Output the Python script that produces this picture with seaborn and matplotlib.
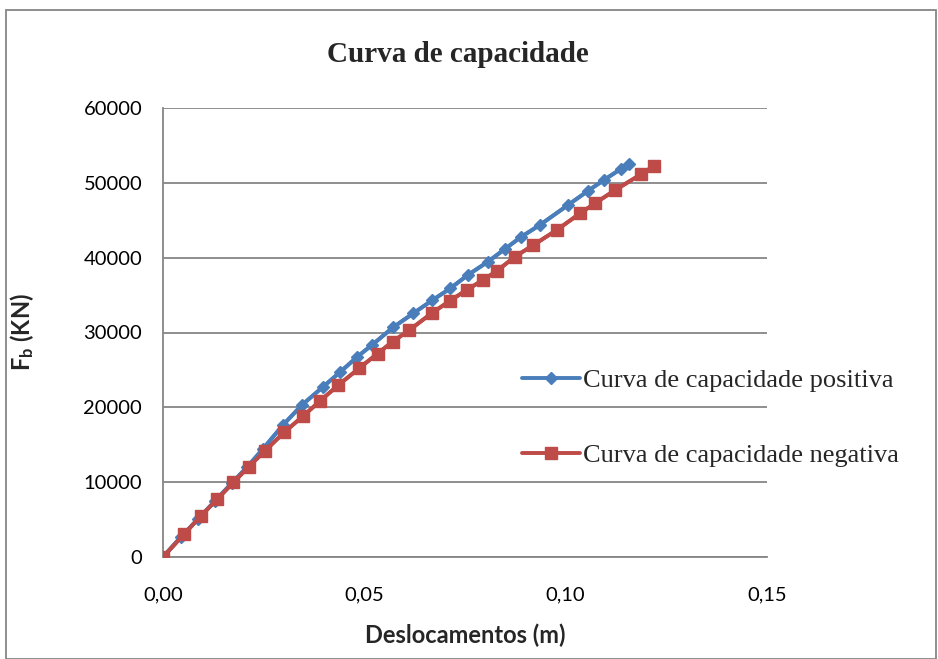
import numpy as np
import pandas as pd
import seaborn as sns
import matplotlib
matplotlib.use("Agg")
import matplotlib.pyplot as plt
from matplotlib.patches import Rectangle
from matplotlib.ticker import FuncFormatter

# Capacity curve data: displacement (m) vs base shear (kN)
desl_pos = [0.0, 0.0045, 0.0087, 0.0129, 0.0171, 0.0209, 0.0248, 0.0298, 0.0345,
            0.0397, 0.0440, 0.0482, 0.0519, 0.0571, 0.0621, 0.0668, 0.0713, 0.0757,
            0.0807, 0.0849, 0.0889, 0.0936, 0.1006, 0.1055, 0.1095, 0.1137, 0.1158]
forca_pos = [0, 2700, 5080, 7480, 9890, 12030, 14430, 17640, 20310,
             22720, 24720, 26730, 28330, 30670, 32540, 34280, 35880, 37680,
             39460, 41160, 42760, 44370, 47040, 48910, 50380, 51850, 52500]

desl_neg = [0.0, 0.0052, 0.0094, 0.0135, 0.0175, 0.0213, 0.0253, 0.0301, 0.0348,
            0.0390, 0.0435, 0.0487, 0.0533, 0.0570, 0.0612, 0.0667, 0.0713, 0.0754,
            0.0795, 0.0830, 0.0874, 0.0920, 0.0978, 0.1036, 0.1073, 0.1123, 0.1187, 0.1219]
forca_neg = [0, 3030, 5480, 7750, 9980, 12070, 14170, 16660, 18840,
             20850, 22950, 25220, 27190, 28770, 30330, 32570, 34250, 35680,
             37020, 38260, 40130, 41690, 43700, 45930, 47270, 49040, 51140, 52250]

serie_pos = "Curva de capacidade positiva"
serie_neg = "Curva de capacidade negativa"

df = pd.concat([
    pd.DataFrame({"x": desl_pos, "y": forca_pos, "serie": serie_pos}),
    pd.DataFrame({"x": desl_neg, "y": forca_neg, "serie": serie_neg}),
], ignore_index=True)

sns.set_style("white")
plt.rcParams["font.family"] = ["Lato", "DejaVu Sans"]
plt.rcParams["mathtext.fontset"] = "custom"
plt.rcParams["mathtext.bf"] = "Lato:bold"
plt.rcParams["mathtext.rm"] = "Lato"

fig = plt.figure(figsize=(9.38, 6.59), dpi=100)
ax = fig.add_axes([163 / 938, 1 - 557 / 659, (767 - 163) / 938, (557 - 108) / 659])

blue = "#4A7EBB"
red = "#BE4B48"

# connecting lines through seaborn
sns.lineplot(data=df, x="x", y="y", hue="serie",
             palette={serie_pos: blue, serie_neg: red},
             sort=False, linewidth=2.8, ax=ax, legend=False)

# markers drawn with per-series size
ax.plot(desl_neg, forca_neg, color=red, lw=2.8, marker="s", ms=9,
        markeredgecolor=red, label=serie_neg, zorder=3)
ax.plot(desl_pos, forca_pos, color=blue, lw=2.8, marker="D", ms=6,
        markeredgecolor=blue, label=serie_pos, zorder=2)

ax.set_xlim(0, 0.15)
ax.set_ylim(0, 60000)
ax.set_xticks([0, 0.05, 0.10, 0.15])
ax.set_yticks(np.arange(0, 60001, 10000))
ax.xaxis.set_major_formatter(FuncFormatter(lambda v, p: f"{v:.2f}".replace(".", ",")))
ax.yaxis.set_major_formatter(FuncFormatter(lambda v, p: f"{int(v)}"))

ax.grid(axis="y", color="#868686", lw=1.3)
ax.grid(axis="x", visible=False)
for s in ["top", "right"]:
    ax.spines[s].set_visible(False)
for s in ["left", "bottom"]:
    ax.spines[s].set_color("#868686")
    ax.spines[s].set_linewidth(1.3)
ax.tick_params(axis="both", labelsize=14.5, colors="black", length=5,
               width=1.2, direction="out")
ax.tick_params(axis="both", color="#868686")
ax.tick_params(axis="y", pad=10)
ax.tick_params(axis="x", pad=16)

ax.set_xlabel("Deslocamentos (m)", fontsize=17, fontweight="bold")
ax.xaxis.set_label_coords(0.5, -0.148)
ax.set_ylabel(r"$\mathbf{F_b}$" + " (KN)", fontsize=17, fontweight="bold")
ax.yaxis.set_label_coords(-0.21, 0.5)

fig.text(458 / 938, 1 - 55 / 659, "Curva de capacidade", ha="center", va="center",
         fontsize=21, fontweight="bold", family="Liberation Serif")

handles, labels = ax.get_legend_handles_labels()
order = [labels.index(serie_pos), labels.index(serie_neg)]
fig.legend([handles[i] for i in order], [labels[i] for i in order],
           loc="upper left", bbox_to_anchor=(522 / 938, 1 - 369 / 659),
           frameon=False, prop={"family": "Liberation Serif", "size": 19},
           handlelength=2.2, handletextpad=0.1, labelspacing=1.95,
           borderaxespad=0, borderpad=0)

# outer chart border
fig.patches.append(Rectangle((6 / 938, 0), 930 / 938, 1 - 10 / 659,
                             transform=fig.transFigure, fill=False,
                             edgecolor="#868686", lw=1.3))

fig.savefig("out.png", dpi=100)
